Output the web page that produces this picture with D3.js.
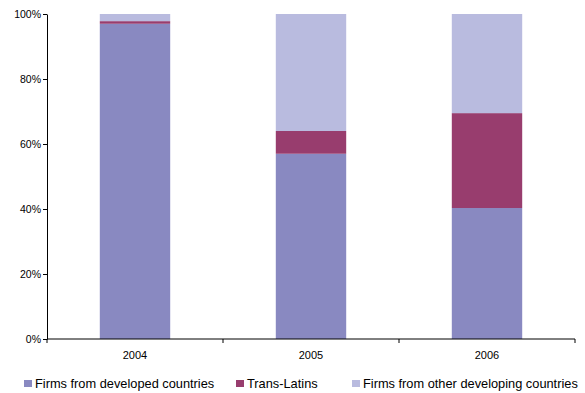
<html>
<head>
  <script src="https://d3js.org/d3.v7.min.js"></script>
  <style>
    body { margin: 0; padding: 0; background: #fff; font-family: "Liberation Sans", Arial, sans-serif; }
  </style>
</head>
<body>
  <div id="chart"></div>
  <script>
const years = ["2004", "2005", "2006"];
const developed = [97.0, 57.0, 40.3];
const transLatins = [0.8, 7.0, 29.2];
const otherDeveloping = [2.2, 36.0, 30.5];
const seriesNames = ["Firms from developed countries", "Trans-Latins", "Firms from other developing countries"];
const yTicks = [0, 20, 40, 60, 80, 100];

const width = 585, height = 393;
const margin = { top: 14, right: 10, bottom: 54, left: 47 };
const colors = ["#8989c1", "#983d6e", "#b9bbdf"];

const rows = years.map((y, i) => ({
  year: y,
  developed: developed[i],
  trans: transLatins[i],
  other: otherDeveloping[i]
}));
const keys = ["developed", "trans", "other"];

const svg = d3.select("#chart").append("svg")
  .attr("width", width)
  .attr("height", height);

const x = d3.scaleBand()
  .domain(years)
  .range([margin.left, width - margin.right])
  .paddingInner(0.6)
  .paddingOuter(0.3);

const y = d3.scaleLinear()
  .domain([0, 100])
  .range([height - margin.bottom, margin.top]);

const stack = d3.stack().keys(keys);
const layers = stack(rows);

svg.selectAll("g.layer")
  .data(layers)
  .enter()
  .append("g")
  .attr("class", "layer")
  .attr("fill", (d, i) => colors[i])
  .selectAll("rect")
  .data(d => d)
  .enter()
  .append("rect")
  .attr("x", d => x(d.data.year))
  .attr("y", d => y(d[1]))
  .attr("width", x.bandwidth())
  .attr("height", d => y(d[0]) - y(d[1]));

// y axis
const yAxis = svg.append("g")
  .attr("transform", `translate(${margin.left},0)`)
  .call(d3.axisLeft(y).tickValues(yTicks).tickFormat(d => d + "%").tickSize(4).tickSizeOuter(0));
yAxis.select(".domain").attr("stroke", "#000");
yAxis.selectAll("text").style("font-size", "10.5px").style("font-family", "Liberation Sans, Arial, sans-serif").attr("fill", "#000").attr("x", -6);

// x axis with ticks at category boundaries
const xEdge = d3.scaleLinear().domain([0, years.length]).range([margin.left, width - margin.right]);
const xAxis = svg.append("g")
  .attr("transform", `translate(0,${height - margin.bottom})`);
xAxis.append("line")
  .attr("x1", margin.left).attr("x2", width - margin.right)
  .attr("stroke", "#000");
xAxis.selectAll("line.tick")
  .data(d3.range(years.length + 1))
  .enter()
  .append("line")
  .attr("class", "tick")
  .attr("x1", d => xEdge(d)).attr("x2", d => xEdge(d))
  .attr("y1", 0).attr("y2", 4)
  .attr("stroke", "#000");
xAxis.selectAll("text")
  .data(years)
  .enter()
  .append("text")
  .attr("x", d => x(d) + x.bandwidth() / 2)
  .attr("y", 20)
  .attr("text-anchor", "middle")
  .style("font-size", "11px")
  .text(d => d);

// legend
const legendX = [24, 236, 352];
const legend = svg.append("g").attr("transform", `translate(0,380)`);
seriesNames.forEach((name, i) => {
  legend.append("rect")
    .attr("x", legendX[i]).attr("y", 0)
    .attr("width", 8).attr("height", 7)
    .attr("fill", colors[i]);
  legend.append("text")
    .attr("x", legendX[i] + 11).attr("y", 8)
    .style("font-size", "12.8px")
    .text(name);
});
  </script>
</body>
</html>
